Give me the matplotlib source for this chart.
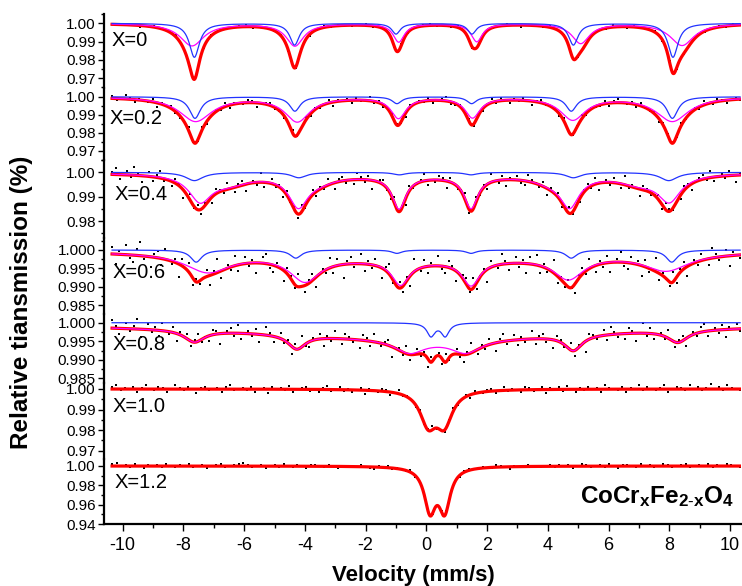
import numpy as np
import matplotlib
matplotlib.use("Agg")
import matplotlib.pyplot as plt
from matplotlib.ticker import FormatStrFormatter, MultipleLocator, AutoMinorLocator

plt.rcParams["font.family"] = ["Liberation Sans", "DejaVu Sans"]
plt.rcParams["axes.unicode_minus"] = False
plt.rcParams["mathtext.fontset"] = "custom"
plt.rcParams["mathtext.rm"] = "Liberation Sans"
plt.rcParams["mathtext.bf"] = "Liberation Sans:bold"
plt.rcParams["mathtext.it"] = "Liberation Sans:italic"

# -----------------------------
# Data: fitted sub-spectra (line position mm/s, depth, FWHM mm/s)
# -----------------------------
SAMPLES = ["X=0", "X=0.2", "X=0.4", "X=0.6", "X=0.8", "X=1.0", "X=1.2"]

X00_BLUE_POS = [-7.64, -4.34, -1.00, 1.50, 4.84, 8.12]
X00_BLUE_DEP = [0.0185, 0.0118, 0.0058, 0.0058, 0.0118, 0.0185]
X00_BLUE_WID = [0.40, 0.38, 0.34, 0.34, 0.38, 0.40]
X00_MAG_POS = [-7.72, -4.33, -0.91, 1.66, 5.08, 8.42]
X00_MAG_DEP = [0.0122, 0.0122, 0.0100, 0.0098, 0.0108, 0.0120]
X00_MAG_WID = [0.95, 0.70, 0.45, 0.45, 0.70, 0.95]

X02_BLUE_POS = [-7.62, -4.33, -0.97, 1.49, 4.77, 8.10]
X02_BLUE_DEP = [0.0120, 0.0080, 0.0038, 0.0038, 0.0080, 0.0120]
X02_BLUE_WID = [0.45, 0.42, 0.38, 0.38, 0.42, 0.45]
X02_MAG_POS = [-7.60, -4.25, -0.92, 1.52, 4.82, 8.10]
X02_MAG_DEP = [0.0135, 0.0135, 0.0115, 0.0112, 0.0125, 0.0135]
X02_MAG_WID = [1.30, 1.00, 0.60, 0.60, 1.00, 1.30]

X04_BLUE_POS = [-7.64, -4.20, -0.89, 1.47, 4.84, 7.98]
X04_BLUE_DEP = [0.0034, 0.0022, 0.0010, 0.0010, 0.0022, 0.0034]
X04_BLUE_WID = [0.70, 0.60, 0.50, 0.50, 0.60, 0.70]
X04_MAG_POS = [-7.45, -4.22, -0.90, 1.47, 4.72, 8.00, -6.50, -3.60, 4.10, 7.00, 0.30]
X04_MAG_DEP = [0.0105, 0.0120, 0.0132, 0.0130, 0.0120, 0.0105, 0.0035, 0.0025, 0.0025, 0.0035, 0.0012]
X04_MAG_WID = [0.90, 0.75, 0.55, 0.55, 0.75, 0.90, 1.60, 1.40, 1.40, 1.60, 12.0]

X06_BLUE_POS = [-7.58, -4.30, -0.97, 1.47, 4.77, 8.08]
X06_BLUE_DEP = [0.0033, 0.0022, 0.0009, 0.0009, 0.0022, 0.0033]
X06_BLUE_WID = [0.45, 0.45, 0.40, 0.40, 0.45, 0.45]
X06_MAG_POS = [-7.20, -4.00, -0.85, 1.47, 4.68, 7.90, 0.30]
X06_MAG_DEP = [0.0050, 0.0066, 0.0064, 0.0066, 0.0060, 0.0046, 0.0028]
X06_MAG_WID = [1.80, 1.20, 0.70, 0.70, 1.20, 1.80, 11.0]

X08_BLUE_POS = [0.15, 0.62]
X08_BLUE_DEP = [0.0035, 0.0035]
X08_BLUE_WID = [0.32, 0.32]
X08_MAG_POS = [-7.64, -4.27, -0.55, 1.30, 4.84, 8.28, 0.30]
X08_MAG_DEP = [0.0032, 0.0038, 0.0035, 0.0035, 0.0042, 0.0033, 0.0045]
X08_MAG_WID = [0.80, 0.70, 1.20, 1.20, 0.70, 0.80, 14.0]

X10_RED_POS = [0.06, 0.59]
X10_RED_DEP = [0.0158, 0.0158]
X10_RED_WID = [0.65, 0.65]

X12_RED_POS = [0.12, 0.60]
X12_RED_DEP = [0.0437, 0.0437]
X12_RED_WID = [0.45, 0.45]

# measured points = total fit + residual (residual in units of NOISE_UNIT)
NOISE_00 = [1, -1, 2, 0, -2, 1, 3, -1, 0, 2, -1, 1, 0, -2, 2, 1, -1, 0, 1, 3, -2, 0, 1, -1, 2, 0, -1, 1, -3, 0,
            2, -1, 1, 0, -2, 1, 2, -1, 0, 1, -1, 2, -2, 0, 1, 3, -1, 0, -1, 2, 1, -2, 0, 1, -1, 0, 2, 1, -3, 1,
            0, -1, 2, -1, 1, 0, -2, 2, 0, 1, -1, 3, 0, -2, 1, -1, 0, 2, -1, 1, -2, 0, 1, 2, -1, 0, 1, -2, 2, 0]
NOISE_02 = [2, -1, 0, 3, 1, -2, 1, 0, -1, 2, -3, 1, 0, 2, -1, -2, 1, 3, 0, -1, 2, -2, 0, 1, -1, 3, -2, 1, 0, -1,
            2, 1, -3, 0, 1, 2, -1, 0, -2, 1, 3, -1, 0, 2, -2, 1, -1, 0, 2, -3, 1, 0, 1, -2, 2, -1, 0, 3, -1, 1,
            -2, 0, 2, 1, -1, -3, 2, 0, 1, -1, 2, -2, 0, 1, 3, -2, -1, 1, 0, 2, -1, 1, -2, 0, 3, -1, 2, 0, -2, 1,
            -1, 2, 0, -3, 1, 2, -1, 0, 1, -2, 2, 1, -1, 0, 3, -2, 1, 0, -1, 2, -2, 1, 3, 0, -1, 1, -2, 2, 0, -1,
            1, -3, 2, 1, 0, -1, 2, -1, 0, 1, -2, 3, 0, -1, 2, 1, -2, 0, 1, -1]
NOISE_04 = [1, 3, -2, 0, 2, -1, 4, 1, -3, 0, 2, -2, 1, 3, -1, 0, -2, 2, 1, -4, 0, 3, -1, 2, -2, 1, 0, -3, 2, 1,
            -1, 3, 0, -2, 1, 2, -3, 0, 1, -1, 4, -2, 0, 2, -1, 1, -3, 2, 0, 1, -2, 3, -1, 0, 2, -2, 1, -1, 3, 0,
            -3, 1, 2, -1, 0, -2, 3, 1, -1, 2, -4, 0, 1, 2, -1, -2, 3, 0, 1, -3, 2, -1, 0, 1, 3, -2, 0, -1, 2, 1,
            -3, 2, 0, -1, 1, 3, -2, 0, 2, -1, 1, -2, 4, 0, -1, 2, -3, 1, 0, 2, -1, -2, 3, 1, 0, -1, 2, -3, 1, 0,
            2, -2, 1, 3, -1, 0, -2, 1, 2, -1, 3, -3, 0, 1, -1, 2, 0, -2, 4, -1, 1, 0, -3, 2, 1, -1, 0, 2, -2, 3,
            1, -1, 0, -2, 2, 1, -3, 0, 1, 2, -1, 3, -2, 0, 1, -1, 2, 0, -3, 1]
NOISE_06 = [2, -3, 1, 0, 3, -1, -2, 2, 4, -1, 0, -3, 1, 2, -2, 3, 0, -1, 1, -4, 2, 0, 3, -2, 1, -1, 0, 2, -3, 1,
            4, -2, 0, 1, -1, 3, -2, 0, 2, -1, 1, -3, 0, 2, 3, -1, -2, 1, 0, -3, 2, 1, -1, 4, 0, -2, 1, 2, -3, 0,
            1, -1, 3, -2, 2, 0, -4, 1, 2, -1, 0, 3, -2, 1, -1, 2, 0, -3, 1, 3, -1, 0, 2, -2, 1, -3, 4, 0, -1, 2,
            -2, 1, 0, 3, -1, -2, 2, 1, -3, 0, 1, 2, -1, 3, -2, 0, 1, -4, 2, 0, -1, 3, 1, -2, 0, 2, -1, 1, -3, 2,
            0, 3, -2, 1, -1, 0, 4, -2, 1, -1, 2, 0, -3, 1, 2, -1, 3, 0, -2, 1, -1, 2, -3, 0, 1, 3, -1, -2, 2, 0,
            1, -3, 2, -1, 0, 4, -2, 1, 0, -1, 3, -2, 1, 2, -3, 0, 1, -1, 2, 0, -2, 3, 1, -1, 0, 2, -3, 1, 0, -1]
NOISE_08 = [3, 1, -2, 0, 2, -1, 1, 4, -3, 0, 2, -1, 1, -2, 3, 0, -1, 2, -3, 1, 0, 2, -2, 1, 3, -1, 0, -2, 2, 1,
            -4, 0, 1, 2, -1, 3, -2, 0, 1, -1, 2, -3, 0, 3, 1, -2, 0, 2, -1, 1, -3, 2, 0, 4, -1, -2, 1, 0, 2, -3,
            1, -1, 3, 0, -2, 2, 1, -1, 0, -3, 2, 1, -2, 3, 0, -1, 1, 2, -4, 0, 1, -1, 3, -2, 0, 2, -1, 1, -3, 2,
            0, 1, -2, 3, -1, 0, 2, -1, -3, 1, 4, 0, -2, 1, -1, 2, 0, -3, 1, 3, -1, 0, 2, -2, 1, -1, 0, 3, -2, 1,
            2, -1, 0, -3, 2, 1, -1, 0, 3, -2, 1, 0, -4, 2, 1, -1, 0, 2, -2, 3, 1, -1, 0, -2, 2, 1, -3, 0, 4, -1,
            2, -2, 0, 1, -1, 3, 0, -2, 1, 2, -3, 0, 1, -1, 2, 3, -2, 0, 1, -1, 2, -3, 1, 0, 2, -1]
NOISE_10 = [2, 3, -1, 1, 0, 2, -2, 1, 3, 0, -1, 2, 1, -2, 0, 3, 1, -1, 2, 0, -3, 1, 2, -1, 0, 1, -2, 2, 3, -1,
            0, 1, -1, 2, -2, 0, 1, -3, 2, 0, 1, -1, 3, -2, 0, 1, 2, -1, 0, -2, 1, 3, -1, 0, 2, -1, 1, -2, 0, 2,
            -3, 1, 0, -1, 2, 1, -2, 0, 3, -1, 1, 0, -2, 2, -1, 1, 3, -1, 0, -2, 1, 2, -1, 0, 1, -3, 2, 0, -1, 1,
            2, -2, 0, 3, -1, 1, 0, -2, 2, 1, -1, 0, 2, -3, 1, 0, 2, -1, 3, 0, -2, 1, -1, 2, 0, 1, -2, 3, 1, 0,
            -1, 2, -2, 1, 0, 3, -1, 2, 0, -1, 1, 3, -2, 0, 2, 1, -1, 3, 0, 2, -1, 1, 4, 0, 2, -1, 3, 1, 0, -1]
NOISE_12 = [2, 3, 0, 1, -1, 2, 0, -2, 1, 0, 1, -1, 2, 0, -1, 1, 0, 2, -1, 0, 1, -2, 0, 1, 2, -1, 0, 1, 2, 3,
            1, -1, 0, 1, -2, 0, 1, -1, 2, 0, -1, 1, 0, -2, 1, 2, 0, -1, 1, 0, -2, 1, 0, 1, -1, 2, 0, -1, -2, 1,
            0, 2, -1, 1, 0, -1, 2, -2, 1, 0, 1, -1, 0, 2, 1, -1, 0, -2, 1, 2, 0, -1, 1, 0, -1, 2, 1, 0, -2, 1,
            0, -1, 2, 0, 1, -1, 0, 2, -1, 1, 0, 1, -2, 0, 2, 1, -1, 0, 1, -1, 2, 0, -2, 1, 1, 0, -1, 2, 0, 1,
            -1, 0, 2, 1, -1, 0, 1, 2, -1, 0, 1, 0, 2, -1, 1, 0, 2, 1, 0, -1]
NOISE_UNIT = [0.0003, 0.0007, 0.0009, 0.0009, 0.0007, 0.0006, 0.0009]

X_TICKS = [-10, -8, -6, -4, -2, 0, 2, 4, 6, 8, 10]
V_START, V_STOP = -10.35, 10.33   # velocity range of the measured channels


def absorption(v, pos, dep, wid):
    """Sum of Lorentzian absorption lines."""
    out = np.zeros_like(v)
    for p, d, w in zip(pos, dep, wid):
        hw = w / 2.0
        out += d * hw ** 2 / ((v - p) ** 2 + hw ** 2)
    return out


panels = [
    ((X00_BLUE_POS, X00_BLUE_DEP, X00_BLUE_WID), (X00_MAG_POS, X00_MAG_DEP, X00_MAG_WID), NOISE_00),
    ((X02_BLUE_POS, X02_BLUE_DEP, X02_BLUE_WID), (X02_MAG_POS, X02_MAG_DEP, X02_MAG_WID), NOISE_02),
    ((X04_BLUE_POS, X04_BLUE_DEP, X04_BLUE_WID), (X04_MAG_POS, X04_MAG_DEP, X04_MAG_WID), NOISE_04),
    ((X06_BLUE_POS, X06_BLUE_DEP, X06_BLUE_WID), (X06_MAG_POS, X06_MAG_DEP, X06_MAG_WID), NOISE_06),
    ((X08_BLUE_POS, X08_BLUE_DEP, X08_BLUE_WID), (X08_MAG_POS, X08_MAG_DEP, X08_MAG_WID), NOISE_08),
    (None, (X10_RED_POS, X10_RED_DEP, X10_RED_WID), NOISE_10),
    (None, (X12_RED_POS, X12_RED_DEP, X12_RED_WID), NOISE_12),
]

# -----------------------------
# Layout (pixels of a 742x586 canvas)
# -----------------------------
W, H = 742, 586
AX_L, AX_R = 104, 741
# (top px, bottom px, ymax, ymin, ticks, fmt)
spans = [
    (14, 88, 1.00507, 0.9647, [0.97, 0.98, 0.99, 1.00], "%.2f"),
    (88, 160, 1.00483, 0.9648, [0.97, 0.98, 0.99, 1.00], "%.2f"),
    (160, 238, 1.00505, 0.97302, [0.98, 0.99, 1.00], "%.2f"),
    (238, 314, 1.00327, 0.98255, [0.985, 0.990, 0.995, 1.000], "%.3f"),
    (314, 383, 1.00235, 0.98375, [0.985, 0.990, 0.995, 1.000], "%.3f"),
    (383, 459, 1.0029, 0.96597, [0.97, 0.98, 0.99, 1.00], "%.2f"),
    (459, 524, 1.00724, 0.94, [0.94, 0.96, 0.98, 1.00], "%.2f"),
]
label_px = [(112, 40), (110, 118), (115, 194), (113, 273), (113, 345), (113, 407), (115, 483)]

fig = plt.figure(figsize=(W / 100, H / 100), dpi=100)
v = np.linspace(V_START, V_STOP, 1500)
xlim = (-10.616, 10.36)

for i, ((blue, mag, noise), span) in enumerate(zip(panels, spans)):
    top, bot, ymax, ymin, ticks, fmt = span
    ax = fig.add_axes([AX_L / W, 1 - bot / H, (AX_R - AX_L) / W, (bot - top) / H])
    ax.patch.set_alpha(0)

    blue_abs = absorption(v, *blue) if blue is not None else np.zeros_like(v)
    mag_abs = absorption(v, *mag)
    total = blue_abs + mag_abs

    vch = np.linspace(V_START, V_STOP, len(noise))
    ch_total = absorption(vch, *mag)
    if blue is not None:
        ch_total += absorption(vch, *blue)
    ax.plot(vch, 1 - ch_total + np.array(noise) * NOISE_UNIT[i], "s", ms=1.7, mew=0,
            color="black", zorder=1)

    ax.plot(v, 1 - total, color="#ff0000", lw=2.3, zorder=2)
    if blue is not None:
        ax.plot(v, 1 - mag_abs, color="#ff00ff", lw=0.9, zorder=3)
        ax.plot(v, 1 - blue_abs, color="#2233ff", lw=0.9, zorder=4)

    ax.set_xlim(*xlim)
    ax.set_ylim(ymin, ymax)
    ax.set_yticks(ticks)
    ax.yaxis.set_major_formatter(FormatStrFormatter(fmt))
    ax.yaxis.set_minor_locator(AutoMinorLocator(2))
    ax.tick_params(axis="y", which="major", direction="out", length=4, width=1, labelsize=11, pad=2)
    ax.tick_params(axis="y", which="minor", direction="out", length=2, width=1)

    for s in ["top", "right"]:
        ax.spines[s].set_visible(False)
    ax.spines["left"].set_linewidth(1.6)
    if i < len(panels) - 1:
        ax.spines["bottom"].set_visible(False)
        ax.tick_params(axis="x", which="both", bottom=False, labelbottom=False)
    else:
        ax.spines["bottom"].set_linewidth(1.6)
        ax.set_xticks(X_TICKS)
        ax.xaxis.set_minor_locator(MultipleLocator(1))
        ax.tick_params(axis="x", which="major", direction="out", length=5, width=1, labelsize=13, pad=4)
        ax.tick_params(axis="x", which="minor", direction="out", length=3, width=1)

    lx, ly = label_px[i]
    fig.text(lx / W, 1 - ly / H, SAMPLES[i], fontsize=14.5, ha="left", va="center")

fig.text(22 / W, 1 - 302 / H, "Relative tiansmission (%)", rotation=90, fontsize=17.5,
         fontweight="bold", ha="center", va="center")
fig.text(413 / W, 1 - 575 / H, "Velocity (mm/s)", fontsize=16, fontweight="bold",
         ha="center", va="center")
fig.text(657 / W, 1 - 497 / H, r"$\mathbf{CoCr_{x}Fe_{2\text{-}x}O_{4}}$", fontsize=17.5,
         ha="center", va="center")

fig.savefig("out.png", dpi=100)
